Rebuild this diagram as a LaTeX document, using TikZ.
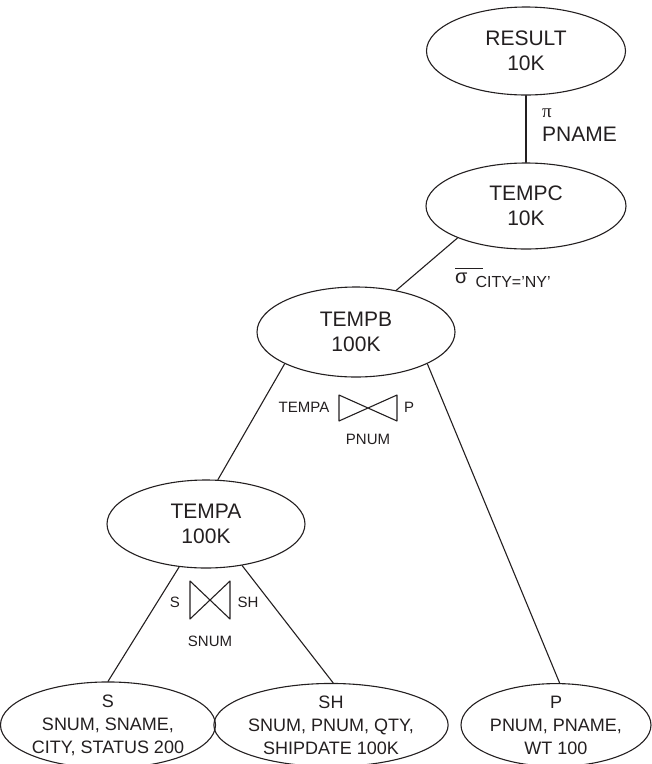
\documentclass[tikz,border=0pt]{standalone}
\usepackage{fontspec}
\setmainfont{Liberation Sans}
\newfontfamily\greekserif{Liberation Serif}
\usetikzlibrary{shapes.geometric}
\definecolor{ink}{HTML}{231F20}
\tikzset{
  every picture/.style={line cap=round, line join=round},
  % relations are ellipses, sizes given in px of the 652x764 drawing
  rel/.style={ellipse, draw=ink, line width=1.1pt, text=ink, align=center, inner sep=0pt},
  relbig/.style={rel, font=\fontsize{21}{25}\selectfont},
  relbase/.style={rel, font=\fontsize{18}{23}\selectfont},
  edge/.style={draw=ink, line width=1.1pt},
  oplabel/.style={text=ink, inner sep=0pt, font=\fontsize{15}{18}\selectfont},
  % join symbol, half width / half height
  pics/natjoin/.style 2 args={code={
    \draw[ink, line width=1.1pt] (-#1,-#2) -- (#1,#2) -- (#1,-#2) -- (-#1,#2) -- cycle;
  }},
}
\begin{document}
\begin{tikzpicture}[x=1pt, y=-1pt]
  \useasboundingbox (0,0) rectangle (652,764);
  % ---- query tree
  \node[relbig, minimum width=199pt, minimum height=88pt] (result) at (526,51) {RESULT\\10K};
  \node[relbig, minimum width=200pt, minimum height=86pt] (tempc) at (526,206) {TEMPC\\10K};
  \node[relbig, minimum width=198pt, minimum height=90pt] (tempb) at (356,332) {TEMPB\\100K};
  \node[relbig, minimum width=198pt, minimum height=88pt] (tempa) at (206,524) {TEMPA\\100K};
  % ---- base relations
  \node[relbase, minimum width=200pt, minimum height=76pt] (s) at (108,725) {S\\SNUM, SNAME,\\CITY, STATUS 200};
  \node[relbase, minimum width=182pt, minimum height=76pt] (sh) at (331,725) {SH\\SNUM, PNUM, QTY,\\SHIPDATE 100K};
  \node[relbase, minimum width=190pt, minimum height=76pt] (p) at (556,725) {P\\PNUM, PNAME,\\WT 100};
  % ---- edges
  \draw[edge] (result) -- (tempc);
  \draw[edge] (tempc.205) -- (tempb.46);
  \draw[edge] (tempb.204) -- (tempa.75);
  \draw[edge] (tempb.336) -- (p.85);
  \draw[edge] (tempa.238) -- (s.90);
  \draw[edge] (tempa.311) -- (sh.87);
  % ---- operations
  \node[oplabel, anchor=west, align=left, font=\fontsize{21}{24}\selectfont] (proj) at (542,125)
    {{\greekserif\fontsize{19}{19}\selectfont π}\\PNAME};
  \node[oplabel, anchor=base west] (sel) at (455,283)
    {{\fontsize{20}{20}\selectfont\rlap{\raisebox{14pt}{\rule{28pt}{0.9pt}}}σ}\hspace{8pt}\raisebox{-4pt}{\fontsize{16}{16}\selectfont CITY=’NY’}};
  \pic at (368,408) {natjoin={29}{13}};
  \node[oplabel] (joinbl) at (304,407) {TEMPA};
  \node[oplabel] (joinbr) at (409,407) {P};
  \node[oplabel] (joinbb) at (368,439) {PNUM};
  \pic at (210,600) {natjoin={20}{19}};
  \node[oplabel] (joinal) at (175,602) {S};
  \node[oplabel] (joinar) at (248,602) {SH};
  \node[oplabel] (joinab) at (210,641) {SNUM};
\end{tikzpicture}
\end{document}
